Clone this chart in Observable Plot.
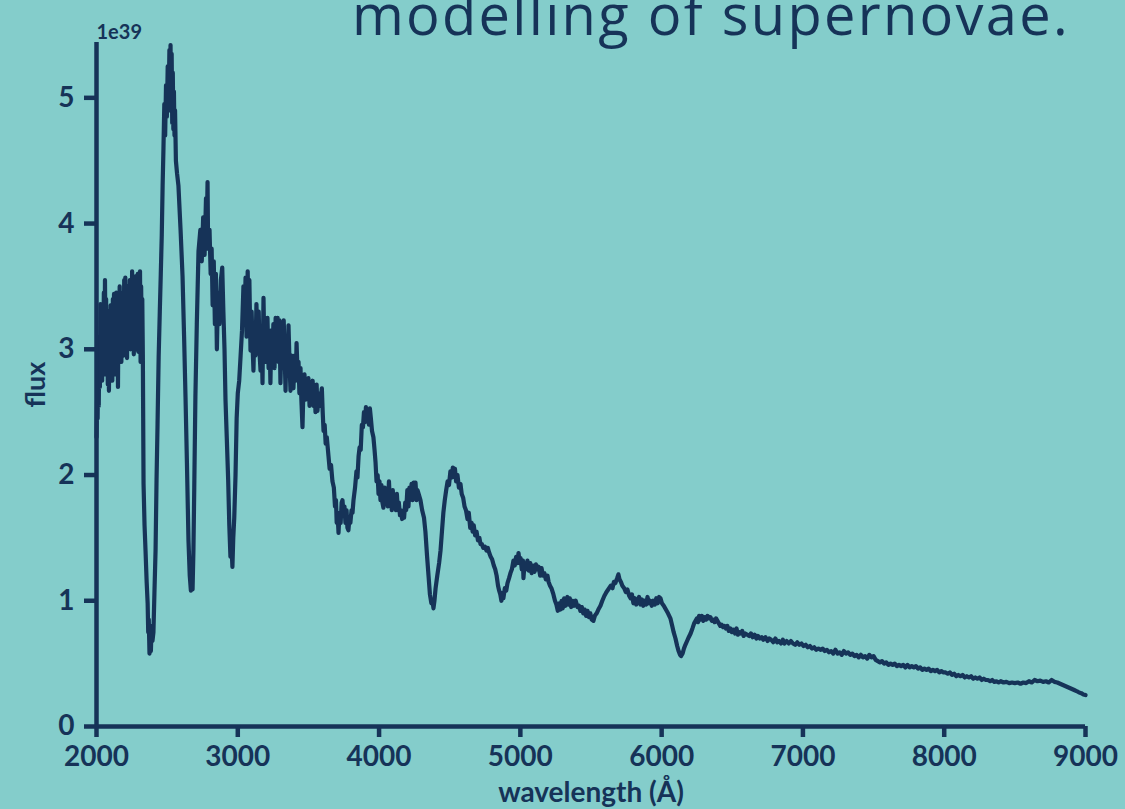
<!DOCTYPE html>
<html>
<head>
<meta charset="utf-8">
<script src="https://cdn.jsdelivr.net/npm/d3@7"></script>
<script src="https://cdn.jsdelivr.net/npm/@observablehq/plot@0.6"></script>
<style>
  html, body { margin: 0; padding: 0; background: #84cdcb; overflow: hidden; }
  #wrap { position: relative; width: 1125px; height: 809px; }
  #title { position: absolute; right: 55px; top: -15px; font-family: "Open Sans", sans-serif; font-weight: 400;
           font-size: 56px; line-height: 56px; letter-spacing: 2.3px; color: #163358; white-space: nowrap; }
</style>
</head>
<body>
<div id="wrap">
  <div id="chart"></div>
  <div id="title">modelling of supernovae.</div>
</div>
<script>
const NAVY = "#163358";
const BG = "#84cdcb";

// wavelength (Å), flux (1e39)
const segPlateau = [
[2000,2.30],[2004,2.60],[2008,2.45],[2012,2.90],[2016,2.55],[2020,3.10],[2024,2.70],[2028,3.36],[2032,2.85],[2036,3.20],
[2040,2.75],[2044,3.30],[2048,2.90],[2052,3.45],[2056,2.80],[2060,3.55],[2064,3.00],[2068,3.40],[2072,2.85],[2076,3.25],
[2080,2.72],[2084,3.30],[2088,2.67],[2092,3.15],[2096,2.90],[2100,3.35],[2104,2.80],[2108,3.20],[2112,2.75],[2116,3.40],
[2120,2.95],[2124,3.44],[2128,2.85],[2132,3.30],[2136,2.80],[2140,3.45],[2144,2.90],[2148,3.25],[2152,2.70],[2156,3.35],
[2160,2.95],[2164,3.50],[2168,3.00],[2172,3.40],[2176,2.90],[2180,3.30],[2184,3.05],[2188,3.45],[2192,2.95],[2196,3.55],
[2200,3.10],[2204,3.57],[2208,3.00],[2212,3.35],[2216,2.93],[2220,3.50],[2224,3.05],[2228,3.45],[2232,3.10],[2236,3.55],
[2240,3.00],[2244,3.40],[2248,3.10],[2252,3.62],[2256,3.05],[2260,3.50],[2264,2.96],[2268,3.45],[2272,3.10],[2276,3.58],
[2280,3.00],[2284,3.50],[2288,3.15],[2292,3.60],[2296,2.98],[2300,3.55],[2304,3.05],[2308,3.62],[2312,2.90],[2316,3.50],
[2320,3.10],[2324,3.40],[2328,2.95]
];
const segDeepLines = [
[2333,1.93],[2340,1.60],[2347,1.40],[2355,1.15],[2362,0.98],[2366,0.75],[2370,0.85],[2375,0.58],[2380,0.66],[2385,0.60],
[2390,0.80],[2396,0.68],[2403,0.75],[2410,1.06],[2418,1.40],[2425,1.96],[2432,2.40],[2440,2.94],[2448,3.30],[2455,3.60],
[2462,3.91],[2468,4.30],[2474,4.60],[2480,4.95],[2486,4.70],[2492,5.10],[2498,4.85],[2504,5.25],[2510,4.90],[2516,5.38],
[2520,5.00],[2524,5.42],[2528,4.95],[2532,5.35],[2536,4.80],[2540,5.20],[2544,4.75],[2548,5.05],[2552,4.70],[2556,4.90],
[2562,4.50],[2570,4.40],[2580,4.30],[2595,3.95],[2609,3.58],[2620,3.10],[2630,2.62],[2640,2.10],[2651,1.48],[2660,1.20],
[2668,1.08],[2675,1.12],[2680,1.09],[2686,1.40],[2692,1.90],[2700,2.62],[2710,3.20],[2722,3.78],[2735,3.95],[2745,3.70],
[2755,4.05],[2765,3.75],[2775,4.20],[2780,3.90],[2786,4.33],[2790,3.80],[2800,3.95],[2808,3.60],[2815,3.80],[2822,3.35],
[2830,3.70],[2838,3.20],[2845,3.60],[2852,3.00],[2860,3.45],[2870,3.20],[2880,3.55],[2890,3.65],[2898,3.30],[2906,3.00],
[2913,2.60],[2922,2.30],[2932,1.96],[2940,1.60],[2948,1.35],[2955,1.45],[2962,1.27],[2968,1.50],[2975,1.66],[2984,2.00],
[2992,2.45]
];
const segBlue = [
[3000,2.65],[3010,2.75],[3020,2.95],[3030,3.15],[3040,3.50],[3048,3.25],[3055,3.57],[3062,3.10],[3070,3.62],[3076,3.30],
[3082,3.55],[3090,2.99],[3098,3.30],[3104,3.05],[3111,2.83],[3118,3.20],[3125,2.95],[3132,3.36],[3140,3.00],[3148,3.30],
[3155,2.95],[3161,2.83],[3168,3.15],[3175,2.73],[3182,3.41],[3188,3.00],[3195,3.20],[3202,2.90],[3210,3.25],[3218,2.85],
[3225,3.10],[3231,2.73],[3238,3.15],[3245,2.95],[3252,3.20],[3260,2.85],[3268,3.25],[3275,3.00],[3282,3.25],[3288,2.90],
[3295,3.23],[3302,2.73],[3310,3.10],[3318,2.85],[3325,3.23],[3332,2.95],[3338,2.67],[3345,3.05],[3352,2.85],[3359,3.19],
[3366,2.90],[3373,2.67],[3380,2.95],[3388,2.80],[3394,2.69],[3402,2.95],[3410,2.75],[3416,3.05],[3422,2.85],[3430,2.90],
[3436,2.65],[3444,2.85],[3450,2.60],[3458,2.38],[3465,2.70],[3472,2.80],[3480,2.60],[3486,2.75],[3493,2.65],[3500,2.77],
[3508,2.55],[3515,2.70],[3522,2.60],[3530,2.75],[3536,2.55],[3544,2.70],[3550,2.50],[3558,2.72],[3564,2.51],[3572,2.65],
[3580,2.55],[3588,2.62],[3595,2.69],[3601,2.50],[3607,2.35],[3615,2.40]
];
const segCaII = [
[3622,2.25],[3630,2.30],[3642,2.15],[3650,2.05],[3660,2.08],[3670,1.95],[3680,1.90],[3688,1.75],[3695,1.80],[3700,1.62],
[3706,1.70],[3713,1.54],[3720,1.70],[3728,1.62],[3735,1.78],[3741,1.80],[3748,1.70],[3755,1.75],[3762,1.62],[3770,1.72],
[3776,1.58],[3783,1.56],[3790,1.65],[3797,1.62],[3805,1.72],[3812,1.70],[3819,1.80],[3830,1.90],[3840,2.03],[3847,1.98],
[3855,2.15],[3862,2.22],[3870,2.20],[3878,2.40],[3886,2.38],[3893,2.50],[3900,2.42],[3907,2.54],[3914,2.45],[3921,2.52],
[3928,2.40],[3935,2.53],[3942,2.45],[3950,2.35],[3960,2.30],[3968,2.20],[3975,2.10],[3982,1.95],[3990,2.00],[3996,1.85],
[4003,1.95],[4010,1.80],[4017,1.92],[4024,1.78],[4031,1.74],[4040,1.90],[4047,1.80],[4055,1.88],[4062,1.75],[4070,1.95],
[4076,1.80],[4083,1.85],[4090,1.72],[4097,1.88],[4104,1.75],[4112,1.80],[4120,1.72],[4126,1.85],[4133,1.72],[4140,1.78],
[4148,1.68],[4155,1.72],[4163,1.65],[4170,1.70],[4177,1.66],[4185,1.78],[4192,1.72],[4200,1.88],[4208,1.75],[4215,1.90],
[4222,1.82],[4230,1.93],[4237,1.80],[4245,1.94],[4252,1.85],[4258,1.94],[4265,1.80],[4272,1.88],[4280,1.85],[4293,1.80],
[4305,1.72],[4318,1.66],[4328,1.55]
];
const segMid = [
[4340,1.35],[4350,1.20],[4360,1.05],[4370,0.98],[4378,1.00],[4385,0.94],[4392,1.00],[4400,1.10],[4412,1.20],[4425,1.30],
[4435,1.40],[4445,1.55],[4455,1.70],[4465,1.80],[4475,1.88],[4485,1.95],[4495,1.92],[4505,2.03],[4515,1.98],[4522,2.06],
[4530,2.00],[4537,2.05],[4545,1.95],[4555,2.00],[4565,1.90],[4576,1.93],[4585,1.85],[4595,1.82],[4605,1.75],[4615,1.72],
[4626,1.65],[4635,1.70],[4645,1.58],[4655,1.62],[4662,1.55],[4670,1.60],[4680,1.52],[4690,1.55],[4700,1.48],[4710,1.50],
[4718,1.45],[4728,1.45],[4738,1.42],[4750,1.43],[4760,1.40],[4770,1.42],[4780,1.38],[4790,1.35],[4800,1.33],[4812,1.28],
[4822,1.25],[4832,1.20],[4842,1.12],[4850,1.08],[4858,1.05],[4866,1.00],[4873,1.06],[4880,1.02],[4890,1.10],[4900,1.08],
[4909,1.14],[4920,1.18],[4930,1.22],[4940,1.25],[4951,1.32],[4960,1.28],[4970,1.35],[4980,1.30],[4987,1.38],[4995,1.30],
[5001,1.34],[5010,1.25],[5018,1.32],[5022,1.18],[5030,1.30],[5038,1.25],[5050,1.32],[5060,1.24],[5070,1.30],[5080,1.22],
[5090,1.28],[5100,1.23],[5110,1.29],[5121,1.25],[5130,1.27],[5140,1.20],[5150,1.26],[5160,1.20],[5170,1.22],[5180,1.17],
[5192,1.20]
];
const segRed = [
[5200,1.15],[5210,1.12],[5220,1.10],[5234,1.05],[5245,1.00],[5255,0.97],[5265,0.92],[5275,0.98],[5284,0.93],[5292,1.00],
[5300,0.94],[5310,1.02],[5320,0.96],[5333,1.03],[5342,0.97],[5350,1.02],[5360,0.95],[5370,1.00],[5380,0.96],[5392,1.00],
[5404,0.95],[5415,0.96],[5425,0.92],[5435,0.95],[5445,0.90],[5455,0.93],[5465,0.88],[5475,0.92],[5485,0.87],[5495,0.90],
[5505,0.85],[5517,0.84],[5527,0.88],[5540,0.90],[5552,0.93],[5567,0.96],[5580,1.00],[5595,1.04],[5605,1.06],[5616,1.08],
[5628,1.10],[5640,1.12],[5652,1.10],[5662,1.15],[5672,1.14],[5685,1.18],[5694,1.21],[5702,1.17],[5712,1.15],[5722,1.12],
[5735,1.10],[5746,1.07],[5758,1.09],[5770,1.04],[5780,1.02],[5790,1.05],[5800,0.98],[5810,1.02],[5820,0.97],[5829,1.00],
[5840,1.03],[5850,0.97],[5860,1.01],[5870,0.96],[5880,1.00],[5890,0.97],[5900,1.03],[5910,0.98],[5920,1.00],[5930,0.96],
[5940,1.00],[5952,0.97],[5962,1.02],[5972,0.98],[5982,1.03],[5992,1.02],[6002,0.98],[6015,0.96],[6030,0.93],[6045,0.90],
[6062,0.86],[6075,0.80],[6085,0.75],[6098,0.70],[6110,0.64],[6120,0.60],[6130,0.57],[6138,0.56]
];
const segTail = [
[6148,0.58],[6158,0.62],[6168,0.65],[6180,0.68],[6192,0.71],[6205,0.74],[6218,0.78],[6230,0.82],[6240,0.84],[6250,0.86],
[6258,0.83],[6265,0.88],[6275,0.85],[6285,0.88],[6295,0.84],[6305,0.87],[6315,0.85],[6325,0.88],[6335,0.86],[6345,0.87],
[6355,0.84],[6365,0.85],[6375,0.83],[6385,0.86],[6395,0.84],[6405,0.82],[6415,0.80],[6425,0.81],[6435,0.79],[6445,0.80],
[6455,0.78],[6465,0.80],[6475,0.76],[6487,0.78],[6497,0.75],[6507,0.77],[6520,0.74],[6530,0.78],[6540,0.73],[6550,0.75],
[6560,0.74],[6570,0.76],[6580,0.72],[6592,0.74],[6607,0.73],[6620,0.72],[6632,0.74],[6645,0.71],[6658,0.73],[6670,0.70],
[6682,0.72],[6695,0.70],[6708,0.71],[6720,0.69],[6735,0.71],[6750,0.68],[6762,0.70],[6775,0.69],[6790,0.67],[6805,0.70],
[6818,0.67],[6830,0.68],[6845,0.66],[6858,0.69],[6870,0.66],[6885,0.68],[6900,0.66],[6915,0.68],[6930,0.66],[6945,0.65],
[6960,0.67],[6975,0.65],[6990,0.66],[7005,0.64],[7020,0.65],[7035,0.63],[7050,0.64],[7065,0.62],[7080,0.63],[7095,0.61],
[7110,0.62],[7124,0.61],[7140,0.62],[7155,0.60],[7170,0.61],[7185,0.59],[7200,0.60],[7215,0.58],[7230,0.61],[7245,0.58],
[7260,0.59],[7275,0.57],[7290,0.60],[7305,0.58],[7320,0.59],[7335,0.57],[7350,0.58],[7365,0.56],[7380,0.57],[7395,0.55],
[7410,0.57],[7425,0.55],[7440,0.56],[7455,0.54],[7470,0.57],[7485,0.55],[7500,0.56],[7515,0.53],[7530,0.52],[7545,0.51],
[7560,0.52],[7575,0.50],[7590,0.51],[7605,0.49],[7620,0.50],[7635,0.49],[7650,0.50],[7665,0.48],[7680,0.49],[7695,0.48],
[7710,0.49],[7725,0.47],[7740,0.49],[7755,0.47],[7770,0.48],[7785,0.47],[7800,0.48],[7815,0.46],[7830,0.47],[7845,0.45],
[7860,0.46],[7875,0.45],[7890,0.46],[7905,0.44],[7920,0.45],[7935,0.44],[7950,0.45],[7965,0.43],[7980,0.44],[7995,0.43],
[8010,0.43],[8025,0.42],[8040,0.43],[8055,0.41],[8070,0.42],[8085,0.40],[8100,0.41],[8115,0.40],[8130,0.41],[8145,0.39],
[8160,0.40],[8175,0.39],[8190,0.40],[8205,0.38],[8220,0.39],[8235,0.38],[8250,0.39],[8265,0.37],[8280,0.38],[8295,0.37],
[8310,0.37],[8325,0.36],[8340,0.37],[8355,0.355],[8370,0.36],[8385,0.35],[8400,0.36],[8420,0.35],[8440,0.355],[8460,0.345],
[8480,0.35],[8500,0.345],[8520,0.35],[8540,0.34],[8560,0.35],[8580,0.345],[8600,0.36],[8620,0.35],[8640,0.37],[8660,0.36],
[8680,0.365],[8700,0.355],[8720,0.36],[8740,0.35],[8760,0.37],[8780,0.355],[8800,0.35],[8820,0.34],[8840,0.33],[8860,0.32],
[8880,0.31],[8900,0.30],[8920,0.29],[8940,0.28],[8955,0.27],[8970,0.265],[8985,0.255],[9000,0.25]
];

const xTicks = [2000, 3000, 4000, 5000, 6000, 7000, 8000, 9000];
const yTicks = [0, 1, 2, 3, 4, 5];
const xLabel = "wavelength (Å)";
const yLabel = "flux";
const yExponent = "1e39";

const spectrum = [].concat(segPlateau, segDeepLines, segBlue, segCaII, segMid, segRed, segTail)
  .map(([w, f]) => ({w, f}));

const yTop = 5.44;

const chart = Plot.plot({
  width: 1125,
  height: 809,
  marginLeft: 96,
  marginRight: 40,
  marginTop: 42,
  marginBottom: 83,
  style: {background: BG, color: NAVY, fontFamily: "Lato, sans-serif", fontSize: "28px", fontWeight: 700, overflow: "visible"},
  x: {domain: [2000, 9000]},
  y: {domain: [0, yTop]},
  marks: [
    Plot.line(spectrum, {x: "w", y: "f", stroke: NAVY, strokeWidth: 4.2, strokeLinejoin: "round", strokeLinecap: "round"}),
    Plot.ruleX([2000], {y1: 0, y2: yTop, stroke: NAVY, strokeWidth: 4.5}),
    Plot.ruleY([0], {x1: 2000, x2: 9000, stroke: NAVY, strokeWidth: 4.5}),
    Plot.axisX(xTicks, {tickSize: 11, tickPadding: 9, strokeWidth: 4.5, stroke: NAVY, fill: NAVY, label: null, tickFormat: d => String(d), fontSize: 28}),
    Plot.axisY(yTicks, {tickSize: 12, tickPadding: 10, strokeWidth: 4.5, stroke: NAVY, fill: NAVY, label: null, tickFormat: d => String(d), fontSize: 28}),
    Plot.text([xLabel], {frameAnchor: "bottom", textAnchor: "middle", dy: 75, lineAnchor: "bottom", fontSize: 28, fill: NAVY, fontWeight: 700, letterSpacing: "1.6px"}),
    Plot.text([yLabel], {frameAnchor: "left", textAnchor: "middle", dx: -60, rotate: -90, fontSize: 27, fill: NAVY, fontWeight: 700, letterSpacing: "1px"}),
    Plot.text([yExponent], {frameAnchor: "top-left", dy: -4, lineAnchor: "bottom", textAnchor: "start", fontSize: 20, fill: NAVY, fontWeight: 700})
  ]
});
document.getElementById("chart").appendChild(chart);
</script>
</body>
</html>
